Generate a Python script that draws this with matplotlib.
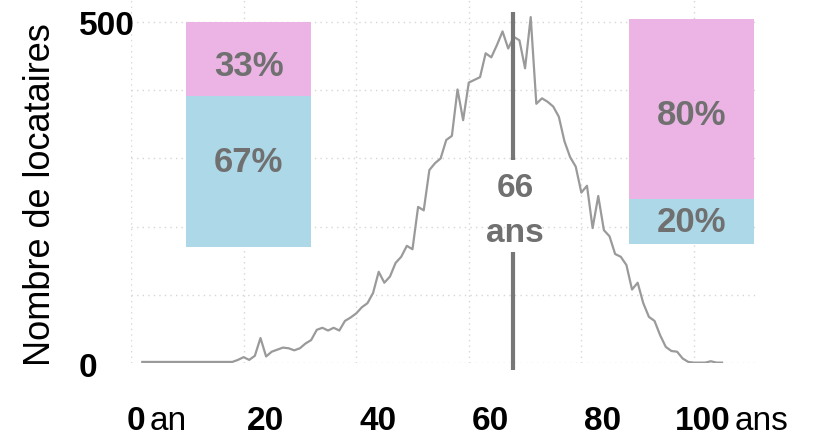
import numpy as np
import matplotlib.pyplot as plt
import matplotlib.transforms as mtransforms

# ── Data ───────────────────────────────────────────────────────────────────────
AGES = list(range(2, 106))
COUNTS = [
    2, 2, 2, 2, 2, 2, 2, 2, 2, 2, 2, 2, 2, 2, 2, 2, 2,          # 2-18
    5, 9, 5, 11, 37, 10, 17, 20, 23, 22, 19, 22,                 # 19-30
    29, 34, 49, 52, 48, 52, 48, 62, 67, 73,                      # 31-40
    82, 88, 103, 134, 118, 127, 147, 156, 172, 167,              # 41-50
    229, 224, 283, 293, 300, 327, 333, 401, 356, 411,            # 51-60
    415, 419, 454, 448, 466, 486, 461, 478, 473, 432,            # 61-70
    507, 380, 388, 383, 376, 361, 325, 302, 288, 250,            # 71-80
    260, 198, 245, 195, 186, 160, 156, 144, 108, 118,            # 81-90
    88, 68, 62, 41, 24, 18, 17, 7, 2, 1,                         # 91-100
    1, 1, 3, 1, 1,                                               # 101-105
]

MEDIAN_LABEL = ["66", "ans"]
MEDIAN_POS = 67.8         # where the marker sits on the age axis

# stacked bars: left block (young) and right block (old)
BAR_CENTERS = [20.9, 99.5]
BAR_WIDTH = 22.2
BAR_BOTTOMS = [170, 174]
BAR_HEIGHT = 330
SHARE_BLUE = [0.67, 0.20]
SHARE_PINK = [0.33, 0.80]
BLUE_LABELS = ["67%", "20%"]
PINK_LABELS = ["33%", "80%"]

X_GRID = [0, 20, 40, 60, 80, 100]
Y_GRID = [0, 100, 200, 300, 400, 500]
Y_LABELS = {0: "0", 500: "500"}

# ── Style ──────────────────────────────────────────────────────────────────────
plt.rcParams["font.family"] = ["Liberation Sans", "DejaVu Sans"]
PINK = "#EBB4E4"
BLUE = "#ADD8E8"
TXT_GREY = "#707070"
LINE_GREY = "#9a9a9a"

fig = plt.figure(figsize=(8.13, 4.37), dpi=100)
W, H = 813, 437
ax = fig.add_axes([131 / W, (H - 363.3) / H, (757 - 131) / W, 363.3 / H])

ax.set_xlim(0.6, 111.2)
ax.set_ylim(0, 532)
for s in ax.spines.values():
    s.set_visible(False)
ax.set_xticks(X_GRID)
ax.set_yticks(Y_GRID)
ax.tick_params(length=0, labelbottom=False, labelleft=False)
ax.grid(True, linestyle=(0, (1, 3)), color="#d6d6d6", linewidth=1)
ax.set_axisbelow(True)

# bars
for i, xc in enumerate(BAR_CENTERS):
    hb = BAR_HEIGHT * SHARE_BLUE[i]
    hp = BAR_HEIGHT * SHARE_PINK[i]
    ax.bar(xc, hb, BAR_WIDTH, bottom=BAR_BOTTOMS[i], color=BLUE, zorder=2)
    ax.bar(xc, hp, BAR_WIDTH, bottom=BAR_BOTTOMS[i] + hb, color=PINK, zorder=2)

# bar labels (hand-placed like the original)
LABEL_Y_BLUE = [294, 206]
LABEL_Y_PINK = [434, 363]
for i, xc in enumerate(BAR_CENTERS):
    ax.text(xc, LABEL_Y_BLUE[i], BLUE_LABELS[i], ha="center", va="center",
            fontsize=25, fontweight="bold", color=TXT_GREY, zorder=3)
    ax.text(xc, LABEL_Y_PINK[i], PINK_LABELS[i], ha="center", va="center",
            fontsize=25, fontweight="bold", color=TXT_GREY, zorder=3)

# age distribution
ax.plot(AGES, COUNTS, color=LINE_GREY, linewidth=1.6, zorder=3,
        solid_joinstyle="round")

# median marker, broken around its label
for y0, y1 in [(-10, 163), (298, 515)]:
    ax.plot([MEDIAN_POS, MEDIAN_POS], [y0, y1], color="#777777",
            linewidth=3, clip_on=False, zorder=4, solid_capstyle="butt")
ax.text(MEDIAN_POS + 0.4, 244, MEDIAN_LABEL[0], ha="center", va="baseline",
        fontsize=24, fontweight="bold", color=TXT_GREY, zorder=5)
ax.text(MEDIAN_POS + 0.4, 178, MEDIAN_LABEL[1], ha="center", va="baseline",
        fontsize=24, fontweight="bold", color=TXT_GREY, zorder=5)

# y tick labels, left aligned
for v, lab in Y_LABELS.items():
    ax.annotate(lab, xy=(0, v), xycoords=("axes fraction", "data"),
                xytext=(-52 * 0.72, -5 * 0.72), textcoords="offset points",
                ha="left", va="center", fontsize=24, fontweight="bold",
                color="black", annotation_clip=False)

# x tick labels
X_OFFSETS_PX = [4.5, 21.5, 21.5, 21.5, 21.5, 9]
base_y = (H - 429.5) / H
for x, off in zip(X_GRID, X_OFFSETS_PX):
    tr = mtransforms.blended_transform_factory(ax.transData, fig.transFigure)
    tr = tr + mtransforms.ScaledTranslation(off / 100, 0, fig.dpi_scale_trans)
    ax.text(x, base_y, str(x), transform=tr, ha="center", va="baseline",
            fontsize=24, fontweight="bold", color="black", clip_on=False)
fig.text(150 / W, base_y, "an", ha="left", va="baseline", fontsize=24)
fig.text(735 / W, base_y, "ans", ha="left", va="baseline", fontsize=24)

fig.text(41 / W, 1 - 195 / H, "Nombre de locataires", rotation=90,
         ha="center", va="center", fontsize=26, color="black")

fig.savefig("out.png", dpi=100)
